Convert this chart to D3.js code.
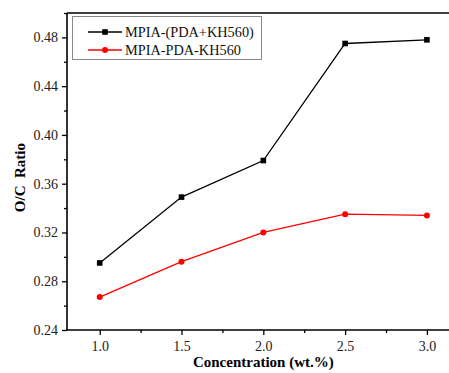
<!DOCTYPE html>
<html>
<head>
<meta charset="utf-8">
<script src="https://cdn.jsdelivr.net/npm/d3@7"></script>
<style>
  body { margin: 0; background: #fff; }
  text { font-family: 'Liberation Serif', 'Tinos', 'Times New Roman', Times, serif; }
</style>
</head>
<body>
<div id="chart"></div>
<script>
const concentrations = [1.0, 1.5, 2.0, 2.5, 3.0];
const seriesNames = ['MPIA-(PDA+KH560)', 'MPIA-PDA-KH560'];
const mixedValues = [0.295, 0.349, 0.379, 0.475, 0.478];
const stepValues = [0.267, 0.296, 0.320, 0.335, 0.334];
const xTicks = [1.0, 1.5, 2.0, 2.5, 3.0];
const xMinorTicks = [1.25, 1.75, 2.25, 2.75];
const yTicks = [0.24, 0.28, 0.32, 0.36, 0.40, 0.44, 0.48];
const yMinorTicks = [0.26, 0.30, 0.34, 0.38, 0.42, 0.46, 0.50];

const width = 449, height = 373;
const margin = { top: 13, right: 0, bottom: 43, left: 67 };
const serif = 'Liberation Serif';

const svg = d3.select('#chart').append('svg')
  .attr('width', width)
  .attr('height', height);

const x = d3.scaleLinear()
  .domain([0.8, 3.135])
  .range([margin.left, width - margin.right]);

const y = d3.scaleLinear()
  .domain([0.24, 0.50])
  .range([height - margin.bottom, margin.top]);

// axes
const xAxis = d3.axisBottom(x).tickValues(xTicks).tickSize(5).tickPadding(6)
  .tickFormat(d3.format('.1f'));
const xMinor = d3.axisBottom(x).tickValues(xMinorTicks).tickSize(3).tickFormat('');
const yAxis = d3.axisLeft(y).tickValues(yTicks).tickSize(5).tickPadding(4)
  .tickFormat(d3.format('.2f'));
const yMinor = d3.axisLeft(y).tickValues(yMinorTicks).tickSize(3).tickFormat('');

function styleAxis(g) {
  g.attr('font-family', serif).attr('font-size', 14);
  g.select('.domain').remove();
  g.selectAll('line').attr('stroke', '#000').attr('stroke-width', 1.3);
  g.selectAll('text').attr('fill', '#222');
}

svg.append('g').attr('transform', `translate(0,${y(0.24)})`).call(xAxis).call(styleAxis);
svg.append('g').attr('transform', `translate(0,${y(0.24)})`).call(xMinor).call(styleAxis);
svg.append('g').attr('transform', `translate(${x(0.8)},0)`).call(yAxis).call(styleAxis);
svg.append('g').attr('transform', `translate(${x(0.8)},0)`).call(yMinor).call(styleAxis);

// frame lines
svg.append('path')
  .attr('d', `M${x(0.8)},${y(0.50)}V${y(0.24)}H${width}M${x(0.8)},${y(0.50)}H${width}`)
  .attr('fill', 'none')
  .attr('stroke', '#000')
  .attr('stroke-width', 1.6);

// series
const series = [
  { name: seriesNames[0], values: mixedValues, color: '#000', marker: 'square' },
  { name: seriesNames[1], values: stepValues, color: '#ff0000', marker: 'circle' }
];

const line = d3.line()
  .x((d, i) => x(concentrations[i]))
  .y(d => y(d));

function drawMarker(g, s, cx, cy) {
  if (s.marker === 'square') {
    g.append('rect')
      .attr('x', cx - 2.8).attr('y', cy - 2.8)
      .attr('width', 5.6).attr('height', 5.6)
      .attr('fill', s.color);
  } else {
    g.append('circle')
      .attr('cx', cx).attr('cy', cy).attr('r', 3)
      .attr('fill', s.color);
  }
}

series.forEach(s => {
  svg.append('path')
    .datum(s.values)
    .attr('d', line)
    .attr('fill', 'none')
    .attr('stroke', s.color)
    .attr('stroke-width', 1.3);
  const g = svg.append('g');
  s.values.forEach((v, i) => drawMarker(g, s, x(concentrations[i]), y(v)));
});

// legend
const legend = svg.append('g');
legend.append('rect')
  .attr('x', 72.5).attr('y', 16.5)
  .attr('width', 189).attr('height', 43)
  .attr('fill', '#fff')
  .attr('stroke', '#888')
  .attr('stroke-width', 1);

series.forEach((s, i) => {
  const ly = 32 + i * 18;
  legend.append('line')
    .attr('x1', 88).attr('x2', 122)
    .attr('y1', ly).attr('y2', ly)
    .attr('stroke', s.color)
    .attr('stroke-width', 1.3);
  drawMarker(legend, s, 105, ly);
  legend.append('text')
    .attr('x', 125).attr('y', ly + 5)
    .attr('fill', '#111')
    .attr('font-family', serif)
    .attr('font-size', 14.3)
    .text(s.name);
});

// axis titles
svg.append('text')
  .attr('x', x(2.0)).attr('y', 367)
  .attr('text-anchor', 'middle')
  .attr('font-family', serif)
  .attr('font-size', 15)
  .attr('font-weight', 'bold')
  .text('Concentration (wt.%)');

svg.append('text')
  .attr('transform', `translate(25,${y(0.365)}) rotate(-90)`)
  .attr('text-anchor', 'middle')
  .attr('font-family', serif)
  .attr('font-size', 15)
  .attr('font-weight', 'bold')
  .style('white-space', 'pre')
  .text('O/C  Ratio');
</script>
</body>
</html>
